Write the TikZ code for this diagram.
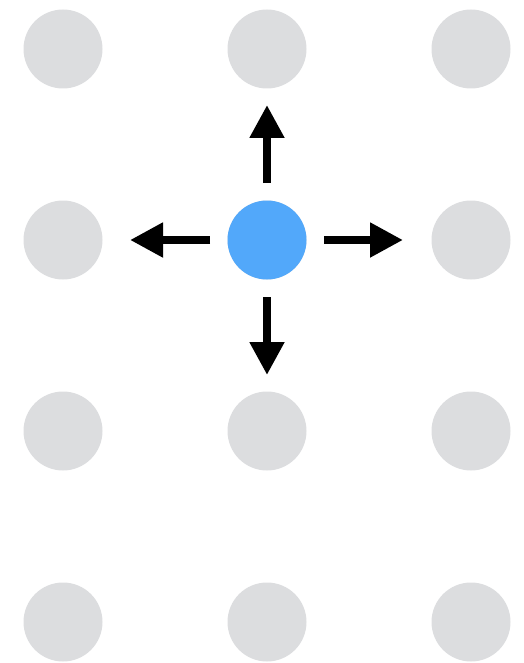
\documentclass[tikz,border=0pt]{standalone}
\usepackage{xcolor}
\usepackage{tikz}
\usetikzlibrary{positioning,arrows.meta}

\definecolor{dotgray}{RGB}{220,221,223}
\definecolor{hubblue}{RGB}{82,168,250}

\begin{document}
\begin{tikzpicture}[x=1pt,y=-1pt,
  dot/.style={circle,fill=dotgray,minimum size=79pt,inner sep=0pt},
  hub/.style={circle,fill=hubblue,minimum size=79pt,inner sep=0pt,outer sep=17.5pt},
  move/.style={line width=8pt,-{Triangle[length=33pt,width=33pt]}}]
\useasboundingbox (0,0) rectangle (523,663);
% grid of neighbours
\foreach \c/\x in {1/63,2/267,3/471}
  \foreach \r/\y in {1/49,2/240,3/431,4/622}
    \node[dot] (g\r\c) at (\x,\y) {};
% the moving cell
\node[hub] (hub) at (267,240) {};
\coordinate (up) at (267,105);
\coordinate (left) at (130,240);
\coordinate (right) at (403,240);
\coordinate (down) at (267,375);
\draw[move] (hub) -- (up);
\draw[move] (hub) -- (left);
\draw[move] (hub) -- (right);
\draw[move] (hub) -- (down);
\end{tikzpicture}
\end{document}
